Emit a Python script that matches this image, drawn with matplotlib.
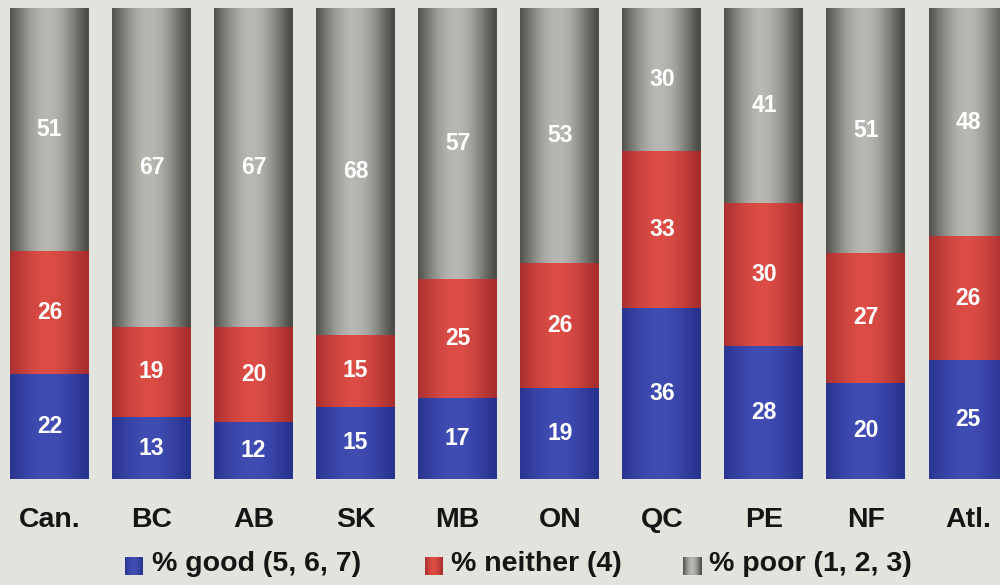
import numpy as np
import matplotlib
matplotlib.use("Agg")
import matplotlib.pyplot as plt

plt.rcParams['font.family'] = ['Liberation Sans', 'DejaVu Sans']

regions = ["Can.", "BC", "AB", "SK", "MB", "ON", "QC", "PE", "NF", "Atl."]
good = [22, 13, 12, 15, 17, 19, 36, 28, 20, 25]
neither = [26, 19, 20, 15, 25, 26, 33, 30, 27, 26]
poor = [51, 67, 67, 68, 57, 53, 30, 41, 51, 48]
legend_labels = ["% good (5, 6, 7)", "% neither (4)", "% poor (1, 2, 3)"]

# edge colour / centre colour for the cylinder shading
shades = [((0.16, 0.20, 0.56), (0.25, 0.30, 0.70)),
          ((0.66, 0.18, 0.18), (0.86, 0.30, 0.27)),
          ((0.30, 0.30, 0.28), (0.72, 0.72, 0.70))]
bg = (0.89, 0.89, 0.87)


def cylinder(edge, centre, n=80):
    t = np.linspace(-1, 1, n)
    w = np.cos(np.clip(t + 0.05, -1, 1) * np.pi / 2) ** 1.1
    w = w[None, :, None]
    return np.array(edge)[None, None, :] * (1 - w) + np.array(centre)[None, None, :] * w


fig = plt.figure(figsize=(10, 5.85), dpi=100)
fig.patch.set_facecolor(bg)
ax = fig.add_axes([0, 0.1812, 1, 0.8051])
ax.set_facecolor(bg)
pitch = 102.06
width = 0.774

for i, name in enumerate(regions):
    vals = [good[i], neither[i], poor[i]]
    total = sum(vals)
    bottom = 0
    for v, (edge, centre) in zip(vals, shades):
        h = v / total * 100
        ax.imshow(cylinder(edge, centre), extent=(i - width / 2, i + width / 2, bottom, bottom + h),
                  aspect='auto', interpolation='bicubic', zorder=2)
        ax.text(i, bottom + h / 2, str(v), ha='center', va='center', color='white',
                fontsize=16.5, fontweight='bold', zorder=3)
        bottom += h
    ax.text(i, -8.8, name, ha='center', va='center', fontsize=20.5, fontweight='bold',
            color='#151515', clip_on=False)
ax.set_xlim(-49.5 / pitch, (1000 - 49.5) / pitch)
ax.set_ylim(0, 100)
ax.axis('off')

# legend: swatch plus label, laid out along the bottom
swatch_x = [125, 425, 683]
label_x = [152, 451, 709]
for sx, lx, label, (edge, centre) in zip(swatch_x, label_x, legend_labels, shades):
    sax = fig.add_axes([sx / 1000, (585 - 575) / 585, 18 / 1000, 18 / 585])
    sax.imshow(cylinder(edge, centre), aspect='auto', interpolation='bicubic')
    sax.axis('off')
    fig.text(lx / 1000, (585 - 564) / 585, label, ha='left', va='center',
             fontsize=20.5, fontweight='bold', color='#151515')

fig.savefig("out.png", dpi=100, facecolor=bg)
